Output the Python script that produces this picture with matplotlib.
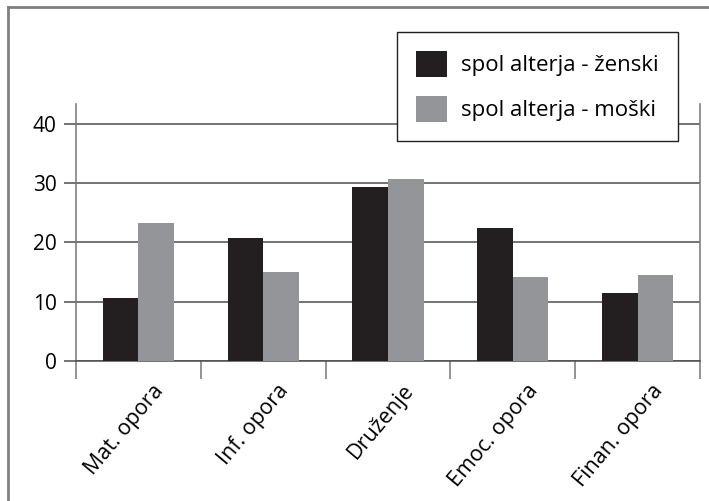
import matplotlib
matplotlib.use('Agg')
import matplotlib.pyplot as plt
import matplotlib.transforms as mtransforms
from matplotlib.lines import Line2D
from matplotlib.patches import Patch
import numpy as np

plt.rcParams['font.family'] = ['Open Sans', 'DejaVu Sans']

# podatki
kategorije = ["Mat. opora", "Inf. opora", "Druženje", "Emoc. opora", "Finan. opora"]
zenski = [10.6, 20.7, 29.3, 22.4, 11.4]
moski = [23.2, 15.0, 30.6, 14.1, 14.5]
oznake = ["spol alterja - ženski", "spol alterja - moški"]

temna = "#231f20"
siva = "#939598"

fig = plt.figure(figsize=(7.09, 5.01), dpi=100)
ax = fig.add_axes([76 / 709, 1 - 361 / 501, 624 / 709, 257 / 501])

x = np.arange(len(kategorije))
w = 0.285
ax.bar(x - w / 2, zenski, w, color=temna, zorder=3)
ax.bar(x + w / 2, moski, w, color=siva, zorder=3)

ax.set_xlim(-0.5, len(kategorije) - 0.5)
ax.set_ylim(0, 43.3)
ax.set_yticks([0, 10, 20, 30, 40])
ax.yaxis.grid(True, color="#4d4d4d", linewidth=1.1, zorder=0)
ax.tick_params(axis='y', length=9, width=1.1, color="#4d4d4d", labelsize=15, pad=5)

# oznake kategorij, kljukice na mejah
ax.set_xticks(x)
ax.set_xticklabels(kategorije, rotation=50, ha='right', rotation_mode='anchor', fontsize=15.5)
ax.tick_params(axis='x', which='major', length=0, pad=14)
ax.set_xticks(np.arange(-0.5, len(kategorije)), minor=True)
ax.tick_params(axis='x', which='minor', length=13, width=1.1, color="#777777")
premik = mtransforms.ScaledTranslation(0.14, 0, fig.dpi_scale_trans)
for lab in ax.get_xticklabels():
    lab.set_transform(lab.get_transform() + premik)

ax.spines['top'].set_visible(False)
ax.spines['bottom'].set_color("#4d4d4d")
ax.spines['bottom'].set_linewidth(1.1)
for s in ['left', 'right']:
    ax.spines[s].set_color("#777777")
    ax.spines[s].set_linewidth(1.1)

# legenda
roc = [Patch(facecolor=temna), Patch(facecolor=siva)]
leg = fig.legend(roc, oznake, loc='upper right', bbox_to_anchor=(678 / 709, 1 - 32 / 501),
                 bbox_transform=fig.transFigure, fontsize=16, frameon=True, fancybox=False,
                 edgecolor="#231f20", framealpha=1, handlelength=1.4, handleheight=1.4,
                 handletextpad=0.64, labelspacing=0.88, borderpad=0.85, borderaxespad=0)
leg.get_frame().set_linewidth(1.0)

# zunanji okvir
fig.add_artist(Line2D([8 / 709, 8 / 709], [0, 1 - 7 / 501], transform=fig.transFigure,
                      color="#808080", linewidth=2))
fig.add_artist(Line2D([8 / 709, 1], [1 - 7 / 501, 1 - 7 / 501], transform=fig.transFigure,
                      color="#808080", linewidth=2))

fig.savefig("out.png", dpi=100)
